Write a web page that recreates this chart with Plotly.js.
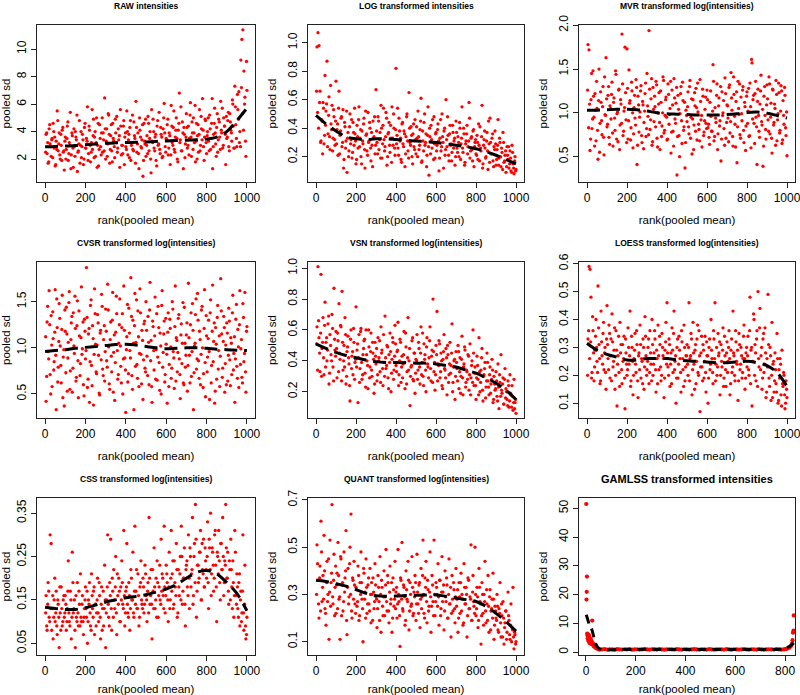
<!DOCTYPE html>
<html><head><meta charset="utf-8">
<script src="https://cdn.plot.ly/plotly-3.0.1.min.js"></script>
<style>html,body{margin:0;padding:0;background:#fff}#chart{width:800px;height:695px}</style>
</head><body><div id="chart"></div>
<script>
const panelTitles = ["RAW intensities","LOG transformed intensities","MVR transformed log(intensities)","CVSR transformed log(intensities)","VSN transformed log(intensities)","LOESS transformed log(intensities)","CSS transformed log(intensities)","QUANT transformed log(intensities)","GAMLSS transformed intensities"];
const xLabel = "rank(pooled mean)";
const yLabel = "pooled sd";

const ranks = [5,10,15,20,25,30,35,40,45,50,55,60,65,70,75,80,85,90,95,100,
105,110,115,120,125,130,135,140,145,150,155,160,165,170,175,180,185,190,195,200,
205,210,215,220,225,230,235,240,245,250,255,260,265,270,275,280,285,290,295,300,
305,310,315,320,325,330,335,340,345,350,355,360,365,370,375,380,385,390,395,400,
405,410,415,420,425,430,435,440,445,450,455,460,465,470,475,480,485,490,495,500,
505,510,515,520,525,530,535,540,545,550,555,560,565,570,575,580,585,590,595,600,
605,610,615,620,625,630,635,640,645,650,655,660,665,670,675,680,685,690,695,700,
705,710,715,720,725,730,735,740,745,750,755,760,765,770,775,780,785,790,795,800,
805,810,815,820,825,830,835,840,845,850,855,860,865,870,875,880,885,890,895,900,
905,910,915,920,925,930,935,940,945,950,955,960,965,970,975,980,985,990,995,1000];
const ranksB = [3,8,13,18,23,28,33,38,43,48,53,58,63,68,73,78,83,88,93,98,
103,108,113,118,123,128,133,138,143,148,153,158,163,168,173,178,183,188,193,198,
203,208,213,218,223,228,233,238,243,248,253,258,263,268,273,278,283,288,293,298,
303,308,313,318,323,328,333,338,343,348,353,358,363,368,373,378,383,388,393,398,
403,408,413,418,423,428,433,438,443,448,453,458,463,468,473,478,483,488,493,498,
503,508,513,518,523,528,533,538,543,548,553,558,563,568,573,578,583,588,593,598,
603,608,613,618,623,628,633,638,643,648,653,658,663,668,673,678,683,688,693,698,
703,708,713,718,723,728,733,738,743,748,753,758,763,768,773,778,783,788,793,798,
803,808,813,818,823,828,833,838,843,848,853,858,863,868,873,878,883,888,893,898,
903,908,913,918,923,928,933,938,943,948,953,958,963,968,973,978,983,988,993,998];

const rawSd = [3.8,2.4,1.7,4.2,3.1,2.2,3.5,4.6,2.8,1.5,3.3,5.5,2.6,3.9,2.0,3.0,4.1,2.5,1.2,3.6,
2.7,4.4,1.9,3.2,5.4,2.3,3.7,1.4,2.9,4.0,3.4,1.1,2.6,4.8,3.0,2.1,3.8,1.6,4.3,2.8,
3.5,5.8,2.4,4.1,1.8,3.2,2.7,4.9,3.6,2.2,5.0,3.0,1.5,4.5,2.9,3.9,2.5,3.4,6.45,2.0,
4.2,3.1,5.2,1.7,3.7,2.6,4.6,3.3,2.1,3.9,5.1,2.8,3.4,1.4,4.4,3.0,2.4,4.8,3.6,2.9,
5.5,2.3,3.8,4.3,1.9,3.2,2.7,4.7,3.5,6.2,2.5,3.9,1.3,4.1,2.9,3.4,0.75,4.6,3.1,2.2,
3.7,5.1,2.6,4.0,1.0,3.3,4.9,2.8,3.6,1.9,4.4,3.0,5.4,2.4,3.8,2.1,4.2,6.05,2.9,3.5,
4.5,2.3,3.9,1.6,5.9,3.2,4.3,2.7,3.6,5.0,2.0,4.1,6.8,3.4,2.6,4.7,1.3,3.8,3.1,5.3,
2.8,4.4,3.5,6.1,2.2,3.9,5.0,3.2,1.8,4.6,3.7,2.5,5.6,3.0,4.2,6.4,2.9,3.6,4.8,2.4,
4.0,3.3,5.2,2.7,4.6,1.3,3.8,5.7,3.1,4.3,2.5,4.9,3.6,6.2,3.9,2.8,5.0,4.4,1.6,3.5,
4.8,2.9,5.3,4.1,3.3,6.0,2.8,7.3,4.5,2.9,5.6,6.9,4.0,9.2,10.7,11.4,8.4,6.5,2.2,7.0];
const rawSdB = [2.5,3.9,3.2,1.8,4.5,2.9,3.4,2.1,4.0,3.6,1.6,2.7,4.8,3.1,2.3,3.8,1.9,4.3,2.6,3.3,
2.0,3.5,4.7,2.4,3.0,1.3,3.9,2.8,4.2,2.2,3.6,5.2,2.5,3.1,1.7,4.0,2.9,3.4,2.0,4.6,
2.8,3.3,1.9,4.4,3.0,2.5,5.6,3.7,2.1,4.0,3.2,1.4,4.6,2.7,3.5,2.3,5.0,3.9,2.6,4.2,
3.3,2.2,5.3,3.8,2.7,4.5,1.8,3.5,2.9,4.9,3.2,2.5,4.2,3.7,5.6,2.3,3.0,4.4,1.6,3.9,
2.7,4.0,3.4,2.1,4.8,3.0,5.2,2.6,3.7,1.7,4.3,3.1,2.4,5.0,3.6,2.8,4.5,1.9,3.3,4.9,
3.0,2.4,4.6,3.5,2.0,5.6,3.2,4.0,2.6,3.8,1.5,4.8,3.1,2.7,4.3,3.6,2.2,5.0,3.9,2.5,
3.4,4.9,2.8,3.7,2.3,4.4,3.0,5.5,2.5,4.1,3.5,1.8,4.6,3.2,5.8,2.6,3.9,4.3,2.1,3.6,
4.3,3.0,2.3,5.2,3.6,4.7,2.7,3.9,5.9,3.3,2.0,4.5,3.8,2.6,5.1,3.4,4.1,1.9,4.9,3.2,
3.7,5.0,2.6,4.2,3.5,6.4,2.9,4.6,3.9,2.2,5.3,3.4,4.7,2.7,4.1,5.7,3.0,4.4,3.8,5.1,
3.6,5.4,2.6,4.7,3.9,6.3,4.4,2.8,5.8,3.5,6.7,4.9,3.2,2.9,7.2,5.3,4.1,6.0,3.3,9.1];

const logSd = [0.97,1.07,0.98,0.66,0.31,0.45,0.58,0.29,0.77,0.52,0.87,0.36,0.62,0.25,0.43,0.56,0.33,0.48,0.28,0.73,
0.39,0.21,0.66,0.35,0.47,0.27,0.53,0.18,0.41,0.31,0.09,0.37,0.24,0.50,0.32,0.19,0.44,0.28,0.36,0.15,
0.42,0.26,0.55,0.33,0.20,0.38,0.29,0.47,0.12,0.35,0.24,0.51,0.31,0.40,0.17,0.28,0.45,0.34,0.22,0.67,
0.30,0.48,0.25,0.37,0.56,0.19,0.42,0.32,0.27,0.51,0.14,0.36,0.44,0.23,0.33,0.55,0.28,0.40,0.21,0.82,
0.35,0.26,0.47,0.31,0.18,0.43,0.29,0.38,0.13,0.34,0.50,0.24,0.65,0.30,0.41,0.20,0.36,0.27,0.46,0.22,
0.33,0.52,0.25,0.39,0.61,0.17,0.31,0.44,0.28,0.36,0.21,0.55,0.07,0.34,0.42,0.26,0.30,0.48,0.19,0.37,
0.28,0.43,0.10,0.33,0.24,0.50,0.30,0.38,0.21,0.60,0.27,0.35,0.17,0.42,0.29,0.23,0.37,0.31,0.14,0.45,
0.26,0.34,0.20,0.40,0.29,0.55,0.23,0.36,0.16,0.31,0.42,0.27,0.58,0.19,0.33,0.25,0.38,0.13,0.30,0.22,
0.35,0.18,0.28,0.41,0.24,0.56,0.15,0.32,0.26,0.20,0.37,0.11,0.29,0.47,0.22,0.33,0.17,0.27,0.38,0.14,
0.25,0.46,0.19,0.30,0.13,0.23,0.37,0.16,0.21,0.09,0.27,0.18,0.12,0.24,0.10,0.28,0.15,0.08,0.20,0.11];
const logSdB = [0.66,0.51,0.40,0.58,0.30,0.46,0.22,0.54,0.35,0.42,0.57,0.27,0.49,0.34,0.70,0.39,0.24,0.53,0.32,0.45,
0.29,0.43,0.54,0.22,0.38,0.48,0.30,0.12,0.44,0.26,0.52,0.33,0.20,0.41,0.29,0.46,0.23,0.37,0.54,0.31,
0.18,0.34,0.46,0.27,0.39,0.15,0.31,0.43,0.25,0.52,0.36,0.21,0.30,0.44,0.26,0.37,0.13,0.33,0.48,0.28,
0.38,0.22,0.45,0.32,0.19,0.40,0.29,0.54,0.24,0.34,0.47,0.20,0.37,0.28,0.42,0.16,0.33,0.50,0.26,0.39,
0.29,0.54,0.21,0.38,0.33,0.16,0.44,0.27,0.36,0.22,0.48,0.31,0.19,0.40,0.28,0.35,0.15,0.43,0.25,0.32,
0.41,0.20,0.34,0.28,0.45,0.16,0.38,0.24,0.50,0.30,0.13,0.35,0.27,0.40,0.22,0.32,0.46,0.18,0.29,0.36,
0.24,0.39,0.31,0.19,0.46,0.27,0.34,0.12,0.40,0.25,0.32,0.48,0.21,0.36,0.28,0.17,0.42,0.26,0.33,0.20,
0.37,0.23,0.30,0.44,0.18,0.33,0.26,0.40,0.14,0.29,0.36,0.22,0.31,0.47,0.24,0.34,0.17,0.39,0.27,0.32,
0.21,0.30,0.43,0.17,0.26,0.34,0.12,0.28,0.38,0.19,0.31,0.24,0.45,0.16,0.30,0.22,0.36,0.13,0.25,0.29,
0.18,0.28,0.14,0.33,0.20,0.26,0.11,0.30,0.17,0.24,0.13,0.21,0.27,0.15,0.19,0.09,0.23,0.12,0.17,0.10];

const mvrSd = [1.78,1.72,0.57,1.15,0.82,1.48,0.95,1.22,0.68,1.05,0.47,1.50,0.88,1.12,0.75,1.30,0.52,0.98,1.63,0.84,
1.20,0.72,1.08,0.93,1.35,0.62,1.17,0.80,1.44,0.99,0.67,1.27,0.86,1.10,1.90,0.74,1.02,1.75,0.92,1.73,
0.70,1.49,1.14,0.83,1.25,0.60,1.06,0.94,1.38,0.41,1.19,0.78,1.01,1.31,0.66,1.09,0.89,1.22,0.73,1.45,
0.96,1.94,0.81,1.16,0.63,1.29,0.90,1.07,1.36,0.71,1.00,1.23,0.58,1.12,0.85,1.41,0.77,0.97,1.18,0.69,
1.33,0.87,1.05,0.54,1.26,0.79,1.39,0.93,1.11,0.29,1.20,0.74,0.99,1.30,0.65,1.14,0.84,0.37,1.03,0.90,
1.24,0.76,1.37,0.95,0.53,1.15,0.86,1.08,1.28,0.69,1.01,0.81,1.38,0.92,0.61,1.19,0.78,1.04,0.88,1.26,
0.83,0.72,1.12,0.96,0.79,1.55,0.68,1.06,0.89,1.33,0.76,1.17,0.91,0.45,1.24,1.00,0.82,1.40,0.71,1.09,
0.94,1.29,0.77,1.46,1.03,0.62,1.21,0.87,1.13,0.43,1.36,0.98,0.75,1.18,0.91,1.30,0.66,1.07,0.85,1.24,
1.02,0.73,1.34,0.60,1.57,1.15,0.88,1.22,0.95,0.41,1.27,0.79,1.10,1.43,0.86,0.39,1.19,0.97,0.70,1.32,
0.92,1.41,0.76,1.11,0.54,1.26,0.89,1.05,1.37,0.68,0.99,1.23,0.80,1.31,0.65,1.14,0.87,1.20,0.74,0.51];
const mvrSdB = [1.26,0.83,1.10,0.70,1.45,0.93,1.19,0.62,1.03,1.36,0.80,1.14,0.55,1.24,0.91,1.07,0.72,1.41,0.97,1.16,
0.87,1.30,0.64,1.05,1.21,0.77,1.12,0.94,1.48,0.70,1.01,1.26,0.58,1.15,0.88,1.33,0.79,1.06,1.23,0.66,
1.28,0.91,1.11,0.69,1.35,1.00,0.76,1.20,0.86,1.29,0.63,1.09,0.95,1.25,0.74,1.13,0.59,1.02,1.34,0.82,
1.08,0.75,1.27,0.92,1.39,0.67,1.04,1.19,0.84,1.32,0.61,1.10,0.89,1.25,0.73,1.00,1.37,0.80,1.15,0.95,
0.70,1.21,0.98,1.36,0.78,1.09,0.62,1.17,0.88,1.29,0.73,1.04,0.50,1.22,0.91,1.35,0.80,1.12,0.66,0.97,
1.07,0.84,1.30,0.71,1.16,0.93,0.58,1.23,0.79,1.06,1.34,0.87,0.68,1.13,0.97,1.27,0.74,0.91,1.18,0.82,
1.15,0.87,0.64,1.25,0.79,1.02,1.36,0.73,0.94,1.20,0.58,1.08,0.85,1.30,0.70,0.97,1.14,0.63,1.22,0.89,
1.08,0.67,1.32,0.90,1.17,0.73,1.41,0.96,0.61,1.24,0.84,1.05,1.33,0.71,0.99,1.26,0.80,1.12,0.57,1.19,
0.88,1.28,0.74,1.07,1.61,0.93,1.20,0.65,1.36,0.84,1.13,0.97,0.72,1.25,0.90,1.04,0.62,1.30,0.81,1.09,
1.16,0.79,1.33,0.95,0.71,1.27,0.86,1.10,0.63,1.21,0.92,1.34,0.77,1.02,1.25,0.69,0.97,1.29,0.83,1.01];

const cvsrSd = [0.42,1.28,0.96,1.62,0.71,1.35,0.58,1.10,0.85,1.63,0.33,1.22,0.79,1.48,1.02,0.62,1.57,0.90,0.37,1.18,
1.44,0.53,1.06,1.61,0.75,1.27,0.52,1.38,0.94,1.21,0.68,1.51,0.46,1.13,0.83,1.66,0.99,0.60,1.31,0.88,
1.87,0.57,1.15,0.41,1.46,0.81,1.24,0.38,1.64,1.04,0.72,1.36,0.92,0.49,1.19,1.58,0.77,1.09,0.64,1.42,
0.86,1.69,1.01,0.55,1.28,0.74,1.60,0.95,0.43,1.17,1.37,0.66,1.05,1.53,0.80,1.22,0.50,1.67,0.89,0.30,
1.12,0.63,1.43,0.97,1.76,0.70,1.30,0.33,1.59,1.06,0.82,1.40,0.58,1.64,0.93,1.19,0.44,1.26,0.78,1.50,
0.91,1.34,0.60,1.71,1.08,0.41,1.23,0.76,1.55,0.98,0.65,1.45,0.84,1.16,0.50,1.62,0.95,1.29,0.71,1.04,
0.40,1.38,0.82,1.21,0.67,1.50,0.96,0.56,1.67,1.11,0.74,1.32,0.88,0.45,1.26,1.05,0.62,1.44,0.79,1.14,
0.53,1.70,0.92,1.25,0.69,1.48,0.33,1.02,1.36,0.77,1.59,0.86,1.18,0.60,1.41,1.00,0.72,1.63,0.47,1.13,
0.90,1.30,0.44,1.52,0.81,1.68,1.07,0.40,1.22,0.66,1.46,0.97,0.58,1.75,1.15,0.78,1.34,0.52,1.03,1.27,
0.64,1.43,0.87,1.11,0.71,1.57,0.94,0.41,1.31,0.80,1.20,0.57,1.62,0.99,0.68,1.48,0.85,1.60,0.52,1.23];
const cvsrSdB = [1.12,0.69,1.45,0.88,1.25,0.50,1.03,1.39,0.76,1.17,0.92,1.53,0.63,1.07,1.32,0.81,1.20,0.46,0.98,1.41,
0.73,1.15,0.89,1.49,0.55,1.09,1.34,0.78,1.02,1.56,0.64,1.24,0.86,1.40,0.70,1.11,0.93,1.28,0.48,1.18,
0.97,1.33,0.66,1.21,0.85,1.52,0.59,1.10,0.93,1.37,0.74,1.03,1.27,0.51,1.16,0.87,1.45,0.70,1.24,0.96,
1.18,0.79,1.41,0.61,1.09,0.91,1.30,0.52,1.14,0.84,1.56,0.97,0.71,1.25,1.02,0.62,1.37,0.88,1.19,0.76,
0.98,1.47,0.72,1.16,0.89,1.34,0.55,1.05,1.24,0.80,1.52,0.67,1.12,0.94,1.38,0.61,1.08,0.87,1.29,0.74,
1.19,0.70,1.06,1.41,0.86,0.58,1.29,0.97,1.13,0.66,1.37,0.90,1.22,0.54,1.02,1.46,0.79,1.15,0.63,1.32,
0.93,1.17,0.58,1.31,1.01,0.78,1.42,0.89,1.23,0.64,1.08,0.95,1.36,0.71,1.14,0.83,1.49,0.60,1.05,0.92,
1.27,0.81,1.11,0.62,1.38,0.96,1.19,0.73,1.05,1.53,0.88,1.30,0.67,1.09,0.93,1.45,0.57,1.21,0.84,1.35,
0.74,1.10,0.96,1.38,0.62,1.18,0.85,1.27,0.53,1.04,1.33,0.77,1.13,0.91,1.40,0.68,1.07,1.22,0.83,0.60,
1.16,0.92,1.29,0.59,1.05,1.38,0.76,1.12,0.88,1.47,0.67,1.01,1.25,0.82,1.09,0.62,1.33,0.94,0.74,1.18];

const vsnSd = [0.62,1.01,0.55,0.33,0.96,0.48,0.68,0.31,0.78,0.52,0.40,0.64,0.25,0.57,0.44,0.70,0.36,0.87,0.47,0.59,
0.29,0.53,0.77,0.41,0.62,0.85,0.34,0.50,0.68,0.25,0.46,0.56,0.38,0.14,0.60,0.43,0.31,0.52,0.39,0.75,
0.47,0.13,0.57,0.35,0.61,0.28,0.44,0.53,0.32,0.60,0.40,0.22,0.49,0.36,0.58,0.30,0.45,0.19,0.52,0.38,
0.27,0.55,0.42,0.33,0.62,0.47,0.24,0.39,0.69,0.35,0.50,0.29,0.44,0.58,0.20,0.41,0.52,0.34,0.63,0.37,
0.46,0.65,0.31,0.54,0.26,0.43,0.38,0.59,0.22,0.49,0.33,0.68,0.40,0.11,0.36,0.53,0.28,0.45,0.19,0.41,
0.57,0.34,0.48,0.25,0.62,0.39,0.30,0.51,0.44,0.20,0.55,0.36,0.42,0.62,0.27,0.47,0.80,0.33,0.21,0.50,
0.72,0.38,0.53,0.29,0.45,0.24,0.41,0.57,0.34,0.48,0.18,0.44,0.31,0.52,0.37,0.64,0.26,0.40,0.15,0.46,
0.35,0.50,0.22,0.42,0.30,0.56,0.18,0.38,0.47,0.26,0.33,0.44,0.21,0.51,0.29,0.40,0.60,0.24,0.36,0.15,
0.43,0.28,0.55,0.20,0.34,0.48,0.14,0.31,0.39,0.23,0.45,0.27,0.18,0.36,0.25,0.41,0.13,0.30,0.21,0.33,
0.17,0.38,0.09,0.26,0.44,0.19,0.29,0.12,0.35,0.22,0.15,0.27,0.10,0.31,0.18,0.24,0.08,0.28,0.13,0.06];
const vsnSdB = [0.51,0.34,0.66,0.45,0.58,0.30,0.52,0.42,0.63,0.36,0.55,0.47,0.69,0.32,0.50,0.40,0.61,0.27,0.54,0.43,
0.48,0.58,0.33,0.45,0.63,0.27,0.52,0.40,0.36,0.57,0.30,0.49,0.42,0.24,0.54,0.35,0.46,0.61,0.28,0.41,
0.36,0.51,0.42,0.26,0.59,0.39,0.31,0.48,0.54,0.23,0.44,0.37,0.60,0.29,0.46,0.34,0.52,0.41,0.25,0.43,
0.48,0.31,0.40,0.53,0.26,0.45,0.35,0.57,0.30,0.42,0.37,0.49,0.22,0.39,0.46,0.32,0.55,0.28,0.43,0.51,
0.33,0.47,0.24,0.40,0.52,0.36,0.29,0.44,0.39,0.58,0.25,0.42,0.34,0.48,0.30,0.37,0.55,0.27,0.45,0.32,
0.40,0.28,0.52,0.36,0.45,0.31,0.58,0.24,0.41,0.34,0.49,0.38,0.29,0.53,0.35,0.43,0.26,0.46,0.39,0.31,
0.44,0.27,0.37,0.51,0.33,0.40,0.22,0.46,0.35,0.29,0.42,0.50,0.26,0.38,0.32,0.45,0.20,0.36,0.41,0.30,
0.39,0.27,0.46,0.33,0.19,0.41,0.29,0.36,0.49,0.23,0.34,0.28,0.43,0.31,0.18,0.37,0.26,0.45,0.32,0.24,
0.29,0.37,0.18,0.33,0.26,0.42,0.21,0.30,0.35,0.16,0.27,0.39,0.23,0.31,0.19,0.28,0.34,0.15,0.25,0.22,
0.27,0.14,0.23,0.31,0.17,0.21,0.25,0.12,0.28,0.16,0.20,0.11,0.24,0.14,0.19,0.10,0.17,0.13,0.09,0.15];

const loessSd = [0.33,0.59,0.58,0.48,0.21,0.36,0.18,0.29,0.40,0.25,0.52,0.31,0.17,0.43,0.27,0.35,0.22,0.30,0.15,0.45,
0.26,0.38,0.19,0.33,0.42,0.23,0.29,0.15,0.36,0.09,0.27,0.21,0.39,0.31,0.17,0.25,0.34,0.08,0.28,0.20,
0.37,0.24,0.43,0.18,0.30,0.13,0.26,0.35,0.21,0.31,0.12,0.28,0.38,0.19,0.25,0.33,0.15,0.41,0.27,0.22,
0.30,0.17,0.36,0.24,0.40,0.20,0.28,0.33,0.14,0.26,0.38,0.22,0.31,0.18,0.35,0.27,0.12,0.29,0.39,0.46,
0.23,0.33,0.16,0.28,0.37,0.21,0.43,0.25,0.10,0.30,0.19,0.34,0.26,0.14,0.32,0.22,0.38,0.18,0.27,0.31,
0.20,0.46,0.26,0.35,0.13,0.39,0.24,0.29,0.17,0.33,0.21,0.36,0.07,0.28,0.23,0.31,0.19,0.34,0.14,0.27,
0.10,0.30,0.22,0.40,0.26,0.17,0.33,0.46,0.24,0.20,0.35,0.28,0.13,0.31,0.23,0.37,0.19,0.27,0.16,0.32,
0.25,0.36,0.13,0.29,0.21,0.43,0.27,0.18,0.32,0.24,0.11,0.35,0.22,0.30,0.19,0.26,0.38,0.15,0.28,0.23,
0.34,0.20,0.48,0.29,0.09,0.25,0.40,0.31,0.18,0.36,0.50,0.23,0.44,0.27,0.15,0.33,0.21,0.37,0.12,0.26,
0.49,0.19,0.30,0.11,0.39,0.24,0.14,0.28,0.17,0.35,0.10,0.22,0.26,0.13,0.29,0.16,0.20,0.08,0.18,0.12];
const loessSdB = [0.20,0.36,0.26,0.32,0.19,0.41,0.28,0.23,0.34,0.30,0.21,0.37,0.26,0.18,0.32,0.24,0.39,0.28,0.21,0.33,
0.31,0.22,0.35,0.27,0.18,0.32,0.25,0.37,0.20,0.29,0.24,0.34,0.16,0.28,0.22,0.31,0.26,0.19,0.33,0.24,
0.22,0.30,0.27,0.16,0.34,0.25,0.20,0.29,0.24,0.36,0.18,0.27,0.22,0.31,0.26,0.17,0.30,0.23,0.34,0.20,
0.25,0.33,0.21,0.28,0.18,0.31,0.24,0.36,0.22,0.29,0.17,0.27,0.34,0.23,0.20,0.30,0.26,0.19,0.32,0.24,
0.28,0.20,0.31,0.24,0.17,0.29,0.35,0.22,0.27,0.19,0.33,0.24,0.29,0.21,0.36,0.26,0.16,0.30,0.23,0.27,
0.24,0.30,0.18,0.27,0.33,0.22,0.28,0.15,0.31,0.25,0.38,0.20,0.27,0.23,0.34,0.18,0.29,0.25,0.21,0.32,
0.27,0.19,0.33,0.24,0.29,0.21,0.36,0.26,0.18,0.30,0.23,0.27,0.32,0.20,0.25,0.29,0.16,0.34,0.22,0.28,
0.21,0.30,0.26,0.17,0.33,0.23,0.28,0.20,0.36,0.25,0.29,0.18,0.31,0.24,0.27,0.21,0.34,0.26,0.19,0.30,
0.27,0.22,0.36,0.17,0.30,0.25,0.42,0.20,0.28,0.33,0.16,0.26,0.37,0.22,0.30,0.19,0.35,0.24,0.28,0.14,
0.23,0.31,0.16,0.27,0.20,0.12,0.25,0.18,0.22,0.14,0.26,0.11,0.19,0.24,0.09,0.17,0.21,0.13,0.10,0.15];

const cssSd = [0.16,0.08,0.19,0.11,0.30,0.28,0.13,0.06,0.15,0.10,0.17,0.07,0.14,0.04,0.12,0.18,0.09,0.15,0.11,0.16,
0.08,0.13,0.24,0.10,0.17,0.06,0.26,0.12,0.15,0.04,0.11,0.19,0.09,0.14,0.21,0.10,0.16,0.07,0.13,0.18,
0.11,0.05,0.15,0.19,0.09,0.21,0.13,0.17,0.07,0.14,0.12,0.20,0.10,0.16,0.06,0.18,0.13,0.09,0.23,0.04,
0.15,0.30,0.11,0.19,0.29,0.08,0.17,0.22,0.13,0.25,0.07,0.16,0.20,0.10,0.18,0.24,0.14,0.31,0.09,0.17,
0.28,0.12,0.19,0.08,0.22,0.15,0.26,0.11,0.32,0.17,0.13,0.21,0.09,0.18,0.24,0.14,0.20,0.12,0.23,0.16,
0.10,0.19,0.34,0.14,0.22,0.06,0.17,0.27,0.13,0.20,0.24,0.11,0.18,0.15,0.29,0.21,0.16,0.32,0.12,0.23,
0.19,0.10,0.26,0.15,0.31,0.21,0.13,0.24,0.18,0.28,0.11,0.22,0.16,0.25,0.32,0.14,0.20,0.27,0.09,0.23,
0.18,0.30,0.13,0.25,0.21,0.34,0.16,0.28,0.37,0.11,0.23,0.19,0.26,0.31,0.15,0.22,0.29,0.18,0.24,0.20,
0.33,0.13,0.27,0.35,0.21,0.26,0.17,0.30,0.23,0.10,0.25,0.31,0.19,0.28,0.22,0.34,0.16,0.24,0.37,0.20,
0.26,0.14,0.22,0.29,0.18,0.24,0.11,0.31,0.16,0.21,0.13,0.19,0.09,0.17,0.12,0.30,0.08,0.23,0.06,0.11];
const cssSdB = [0.12,0.09,0.14,0.17,0.10,0.13,0.08,0.16,0.11,0.20,0.12,0.09,0.15,0.11,0.18,0.08,0.13,0.10,0.16,0.12,
0.14,0.10,0.17,0.12,0.09,0.15,0.11,0.19,0.13,0.08,0.16,0.10,0.12,0.17,0.09,0.11,0.14,0.10,0.11,0.15,
0.13,0.17,0.10,0.14,0.12,0.08,0.16,0.11,0.18,0.14,0.09,0.15,0.12,0.19,0.11,0.14,0.08,0.17,0.13,0.15,
0.12,0.18,0.14,0.09,0.16,0.13,0.20,0.11,0.15,0.18,0.12,0.21,0.14,0.17,0.10,0.15,0.19,0.13,0.16,0.12,
0.18,0.14,0.11,0.16,0.13,0.20,0.15,0.12,0.17,0.14,0.22,0.13,0.16,0.11,0.19,0.15,0.13,0.18,0.14,0.21,
0.15,0.17,0.12,0.20,0.16,0.14,0.22,0.13,0.18,0.15,0.11,0.19,0.16,0.23,0.14,0.17,0.20,0.13,0.18,0.16,
0.21,0.15,0.18,0.13,0.20,0.17,0.24,0.14,0.19,0.16,0.22,0.12,0.18,0.21,0.15,0.25,0.17,0.20,0.14,0.22,
0.24,0.16,0.20,0.27,0.18,0.22,0.14,0.25,0.19,0.29,0.17,0.23,0.20,0.26,0.15,0.28,0.21,0.18,0.27,0.22,
0.25,0.19,0.29,0.22,0.16,0.27,0.23,0.20,0.31,0.18,0.26,0.21,0.24,0.15,0.28,0.22,0.25,0.19,0.23,0.27,
0.20,0.17,0.24,0.15,0.22,0.13,0.19,0.16,0.26,0.14,0.18,0.11,0.21,0.15,0.10,0.17,0.12,0.14,0.09,0.07];

const quantSd = [0.51,0.36,0.20,0.42,0.61,0.27,0.38,0.55,0.24,0.17,0.44,0.30,0.11,0.53,0.35,0.68,0.26,0.47,0.33,0.22,
0.39,0.52,0.28,0.11,0.45,0.34,0.23,0.48,0.37,0.57,0.13,0.41,0.29,0.50,0.64,0.20,0.36,0.44,0.26,0.33,
0.25,0.42,0.19,0.35,0.48,0.28,0.10,0.39,0.31,0.45,0.22,0.34,0.26,0.41,0.18,0.30,0.37,0.24,0.43,0.29,
0.16,0.38,0.27,0.46,0.14,0.33,0.21,0.40,0.29,0.49,0.23,0.35,0.18,0.42,0.28,0.14,0.37,0.25,0.44,0.31,
0.20,0.49,0.27,0.08,0.36,0.52,0.23,0.33,0.17,0.40,0.28,0.44,0.15,0.35,0.25,0.46,0.21,0.31,0.38,0.19,
0.47,0.26,0.34,0.16,0.41,0.29,0.53,0.22,0.37,0.44,0.18,0.32,0.25,0.48,0.14,0.38,0.27,0.53,0.21,0.35,
0.30,0.43,0.17,0.36,0.24,0.46,0.31,0.15,0.40,0.27,0.34,0.20,0.45,0.26,0.12,0.38,0.23,0.32,0.18,0.41,
0.28,0.14,0.35,0.22,0.39,0.30,0.17,0.43,0.26,0.33,0.12,0.37,0.24,0.29,0.51,0.19,0.38,0.25,0.50,0.21,
0.33,0.16,0.41,0.27,0.09,0.35,0.22,0.30,0.44,0.18,0.26,0.38,0.14,0.32,0.23,0.28,0.39,0.11,0.25,0.20,
0.30,0.15,0.24,0.35,0.12,0.21,0.27,0.09,0.18,0.23,0.14,0.31,0.19,0.11,0.26,0.16,0.33,0.07,0.13,0.10];
const quantSdB = [0.30,0.43,0.26,0.37,0.23,0.48,0.33,0.28,0.40,0.22,0.35,0.27,0.45,0.31,0.25,0.39,0.29,0.36,0.21,0.42,
0.34,0.24,0.38,0.29,0.46,0.21,0.35,0.27,0.31,0.40,0.19,0.33,0.26,0.43,0.30,0.23,0.37,0.28,0.34,0.22,
0.32,0.27,0.38,0.21,0.30,0.35,0.24,0.41,0.28,0.20,0.33,0.26,0.37,0.23,0.30,0.35,0.19,0.31,0.27,0.34,
0.28,0.24,0.33,0.19,0.30,0.36,0.25,0.29,0.21,0.34,0.27,0.38,0.23,0.31,0.26,0.35,0.20,0.32,0.28,0.24,
0.33,0.26,0.30,0.21,0.37,0.28,0.24,0.34,0.29,0.19,0.32,0.27,0.36,0.23,0.30,0.26,0.33,0.22,0.29,0.35,
0.26,0.31,0.22,0.35,0.28,0.24,0.38,0.30,0.20,0.33,0.27,0.36,0.23,0.31,0.29,0.25,0.34,0.21,0.30,0.27,
0.33,0.25,0.29,0.36,0.21,0.31,0.27,0.34,0.23,0.29,0.37,0.20,0.30,0.26,0.33,0.22,0.28,0.35,0.24,0.29,
0.25,0.32,0.20,0.29,0.35,0.23,0.28,0.18,0.33,0.26,0.30,0.21,0.36,0.24,0.28,0.19,0.31,0.27,0.22,0.30,
0.24,0.29,0.19,0.33,0.26,0.21,0.30,0.17,0.27,0.23,0.32,0.19,0.25,0.29,0.15,0.24,0.20,0.28,0.17,0.23,
0.19,0.25,0.14,0.22,0.18,0.26,0.12,0.20,0.16,0.23,0.11,0.18,0.21,0.13,0.17,0.10,0.15,0.12,0.14,0.09];

const gamlssRanks = [1,2,3,4,5,6,7,8,9,10,11,12,13,14,15,16,18,20,22,24,25,26,28,30,32,34,36,38,40,42,44,46,48,50,
55,65,75,85,95,105,115,125,135,145,155,165,175,185,195,205,215,225,235,245,255,265,275,285,295,305,315,325,335,345,
355,365,375,385,395,405,415,425,435,445,455,465,475,485,495,505,515,525,535,545,555,565,575,585,595,605,615,625,635,645,
655,665,675,685,695,705,715,725,735,745,755,765,775,785,
795,800,805,810,815,820,825,828,830,832,834,835];
const gamlssSd = [51.5,18.3,21.0,26.3,6.5,5.8,4.9,6.2,4.3,5.5,3.8,6.0,4.6,3.2,5.1,4.0,3.5,4.4,2.9,3.6,11.0,2.7,3.1,2.4,2.0,2.6,1.8,2.2,1.5,1.7,1.3,1.4,1.2,1.1,
0.9,1.0,1.1,0.95,1.05,1.0,0.9,1.1,1.0,0.95,1.05,1.0,1.1,0.9,1.0,1.05,0.95,1.0,1.1,1.0,0.9,1.05,1.0,0.95,1.1,1.0,0.9,1.0,1.05,1.0,
0.95,1.1,1.0,0.9,1.05,1.0,0.95,1.0,1.1,1.0,0.9,1.05,1.0,0.95,1.1,1.0,0.9,1.0,1.05,1.0,0.95,1.1,1.0,0.9,1.05,1.0,0.95,1.0,1.1,1.0,
0.9,1.05,1.0,0.95,1.1,1.0,0.9,1.0,1.05,1.0,0.95,1.1,1.0,0.9,
1.0,1.1,1.2,1.3,1.5,1.8,2.3,3.0,4.2,6.8,7.5,12.8];

const trendRanks = [0,50,100,150,200,250,300,350,400,450,500,550,600,650,700,750,800,850,900,950,1000];
const rawTrend   = [2.9,2.92,2.95,2.98,3.05,3.1,3.15,3.18,3.2,3.22,3.25,3.28,3.32,3.35,3.37,3.4,3.45,3.6,4.0,4.8,5.7];
const logTrend   = [0.49,0.43,0.38,0.34,0.325,0.32,0.325,0.325,0.32,0.315,0.31,0.305,0.3,0.29,0.28,0.27,0.255,0.235,0.21,0.18,0.15];
const mvrTrend   = [1.03,1.03,1.035,1.04,1.04,1.035,1.02,1.0,0.99,0.985,0.98,0.975,0.975,0.975,0.98,0.99,1.005,1.01,0.995,0.97,0.94];
const cvsrTrend  = [0.96,0.97,0.98,0.995,1.005,1.015,1.025,1.035,1.04,1.03,1.015,1.0,0.99,0.995,1.0,1.0,0.995,0.985,0.98,0.975,0.97];
const vsnTrend   = [0.51,0.48,0.455,0.435,0.42,0.405,0.395,0.39,0.39,0.388,0.385,0.385,0.38,0.37,0.36,0.34,0.32,0.29,0.255,0.21,0.15];
const loessTrend = [0.315,0.29,0.275,0.265,0.255,0.255,0.26,0.26,0.26,0.255,0.252,0.25,0.248,0.245,0.245,0.248,0.25,0.245,0.235,0.21,0.16];
const cssTrend   = [0.133,0.13,0.128,0.128,0.132,0.138,0.145,0.15,0.155,0.158,0.162,0.168,0.175,0.185,0.2,0.213,0.218,0.21,0.19,0.165,0.125];
const quantTrend = [0.36,0.355,0.345,0.335,0.32,0.305,0.295,0.292,0.293,0.295,0.297,0.298,0.298,0.292,0.285,0.278,0.27,0.25,0.22,0.185,0.145];
const gamlssTrendRanks = [1,5,10,15,20,25,30,35,40,45,50,60,70,80,100,200,300,400,500,600,700,780,800,810,820,830,835];
const gamlssTrend = [13.0,12.0,10.5,9.0,8.5,7.5,5.8,4.0,2.8,2.0,1.5,1.0,0.8,0.75,0.85,1.0,1.0,1.0,1.0,1.0,1.0,1.05,1.3,1.7,2.2,2.8,3.2];

const xTickVals = [0,200,400,600,800,1000];
const gamlssXTickVals = [0,200,400,600,800];
const rawTicks = [2,4,6,8,10];           const rawTickText = ["2","4","6","8","10"];
const logTicks = [0.2,0.4,0.6,0.8,1.0];  const logTickText = ["0.2","0.4","0.6","0.8","1.0"];
const mvrTicks = [0.5,1.0,1.5,2.0];      const mvrTickText = ["0.5","1.0","1.5","2.0"];
const cvsrTicks = [0.5,1.0,1.5];         const cvsrTickText = ["0.5","1.0","1.5"];
const vsnTicks = [0.2,0.4,0.6,0.8,1.0];  const vsnTickText = ["0.2","0.4","0.6","0.8","1.0"];
const loessTicks = [0.1,0.2,0.3,0.4,0.5,0.6]; const loessTickText = ["0.1","0.2","0.3","0.4","0.5","0.6"];
const cssTicks = [0.05,0.15,0.25,0.35];  const cssTickText = ["0.05","0.15","0.25","0.35"];
const quantTicks = [0.1,0.3,0.5,0.7];    const quantTickText = ["0.1","0.3","0.5","0.7"];
const gamlssTicks = [0,10,20,30,40,50];  const gamlssTickText = ["0","10","20","30","40","50"];

// layout helpers (positions/styles)
const colDom = [[0.04625,0.31875],[0.385,0.655],[0.72375,0.99375]];
const rowDom = [[0.7381,0.964],[0.3986,0.623],[0.0576,0.2835]];
const titleY = [0.9914,0.6504,0.3108];

const panels = [
  {sets:[[ranks,rawSd],[ranksB,rawSdB]],tx:trendRanks,ty:rawTrend,yt:rawTicks,ytt:rawTickText,yr:[0.33,11.75]},
  {sets:[[ranks,logSd],[ranksB,logSdB]],tx:trendRanks,ty:logTrend,yt:logTicks,ytt:logTickText,yr:[0.022,1.124]},
  {sets:[[ranks,mvrSd],[ranksB,mvrSdB]],tx:trendRanks,ty:mvrTrend,yt:mvrTicks,ytt:mvrTickText,yr:[0.21,2.003]},
  {sets:[[ranks,cvsrSd],[ranksB,cvsrSdB]],tx:trendRanks,ty:cvsrTrend,yt:cvsrTicks,ytt:cvsrTickText,yr:[0.24,1.93]},
  {sets:[[ranks,vsnSd],[ranksB,vsnSdB]],tx:trendRanks,ty:vsnTrend,yt:vsnTicks,ytt:vsnTickText,yr:[0.03,1.04]},
  {sets:[[ranks,loessSd],[ranksB,loessSdB]],tx:trendRanks,ty:loessTrend,yt:loessTicks,ytt:loessTickText,yr:[0.047,0.606]},
  {sets:[[ranks,cssSd],[ranksB,cssSdB]],tx:trendRanks,ty:cssTrend,yt:cssTicks,ytt:cssTickText,yr:[0.023,0.385]},
  {sets:[[ranks,quantSd],[ranksB,quantSdB]],tx:trendRanks,ty:quantTrend,yt:quantTicks,ytt:quantTickText,yr:[0.044,0.708]},
  {sets:[[gamlssRanks,gamlssSd]],tx:gamlssTrendRanks,ty:gamlssTrend,yt:gamlssTicks,ytt:gamlssTickText,yr:[-0.94,53.6],xr:[-28,840],xt:gamlssXTickVals}
];

const FONT = "Liberation Sans, Arial, Helvetica, sans-serif";
const traces = [];
const layout = {
  width:800, height:695, showlegend:false,
  margin:{l:0,r:0,t:0,b:0},
  paper_bgcolor:"#fff", plot_bgcolor:"#fff",
  font:{family:FONT, color:"#000"},
  annotations:[]
};

panels.forEach((p,i)=>{
  const n = i+1;
  const xa = "x"+(n===1?"":n), ya = "y"+(n===1?"":n);
  const r = Math.floor(i/3), c = i%3;
  p.sets.forEach(s=>{
    traces.push({type:"scatter",mode:"markers",x:s[0],y:s[1],xaxis:xa,yaxis:ya,cliponaxis:false,
      marker:{color:"#FF0000",size:(i===8?4.2:3.3),line:{width:0}},hoverinfo:"skip"});
  });
  traces.push({type:"scatter",mode:"lines",x:p.tx,y:p.ty,xaxis:xa,yaxis:ya,
    line:{color:"#000",width:3,dash:(i===8?"9px,6px":"13px,7px"),shape:"spline"},hoverinfo:"skip"});
  const axBase = {showgrid:false,zeroline:false,showline:true,mirror:true,linecolor:"#222",linewidth:1,
    ticks:"outside",ticklen:5,tickwidth:1,tickcolor:"#222",ticklabeloverflow:"allow",
    tickfont:{size:12,family:FONT,color:"#000"}};
  layout["xaxis"+(n===1?"":n)] = Object.assign({},axBase,{
    domain:colDom[c], anchor:ya, range:p.xr||[-40,1040], tickmode:"array", tickvals:p.xt||xTickVals,
    title:{text:xLabel,font:{size:11.5,family:FONT},standoff:11}
  });
  layout["yaxis"+(n===1?"":n)] = Object.assign({},axBase,{
    domain:rowDom[r], anchor:xa, range:p.yr, tickmode:"array", tickvals:p.yt, ticktext:p.ytt, tickangle:-90,
    title:{text:yLabel,font:{size:11.5,family:FONT},standoff:7}
  });
  layout.annotations.push({text:"<b>"+panelTitles[i]+"</b>",xref:"paper",yref:"paper",
    x:(colDom[c][0]+colDom[c][1])/2,y:titleY[r],xanchor:"center",yanchor:"middle",showarrow:false,
    font:{size:(i===8?11:8.5),family:FONT,color:"#000"}});
});

Plotly.newPlot("chart",traces,layout,{staticPlot:true});
</script>
</body></html>
